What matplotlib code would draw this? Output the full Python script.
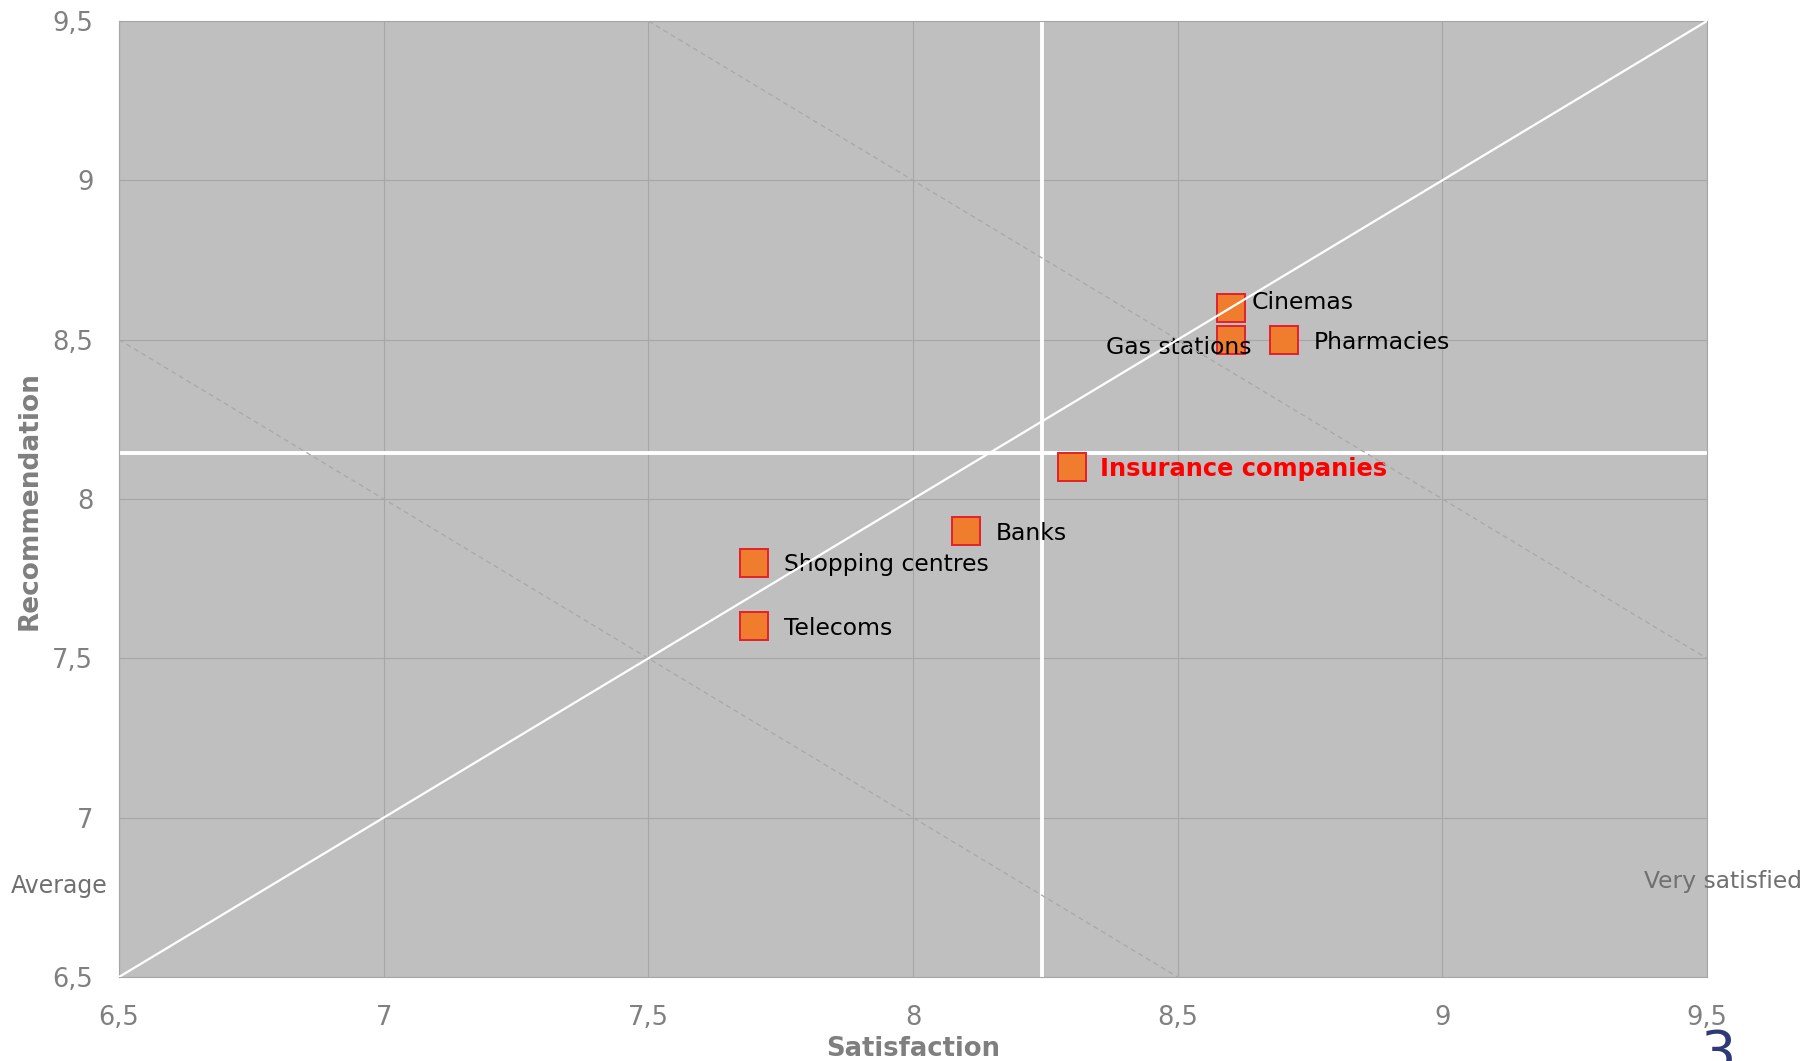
import matplotlib
matplotlib.use("Agg")
import matplotlib.pyplot as plt
import numpy as np

plt.rcParams['font.family'] = ['DejaVu Sans']

# ---- data ----
categories = ["Cinemas", "Gas stations", "Pharmacies", "Insurance companies",
              "Banks", "Shopping centres", "Telecoms"]
satisfaction = [8.6, 8.6, 8.7, 8.3, 8.1, 7.7, 7.7]
recommendation = [8.6, 8.5, 8.5, 8.1, 7.9, 7.8, 7.6]
tick_values = [6.5, 7, 7.5, 8, 8.5, 9, 9.5]
tick_labels = ["6,5", "7", "7,5", "8", "8,5", "9", "9,5"]
# reference lines x + y = const
iso_sums = [15, 17]

W, H = 1806, 1061
fig = plt.figure(figsize=(W / 100, H / 100), dpi=100)
ax = fig.add_axes([119 / W, 1 - 977 / H, (1707 - 119) / W, (977 - 21) / H])
ax.set_facecolor('#BFBFBF')
ax.set_xlim(tick_values[0], tick_values[-1])
ax.set_ylim(tick_values[0], tick_values[-1])
ax.set_xticks(tick_values)
ax.set_xticklabels(tick_labels)
ax.set_yticks(tick_values)
ax.set_yticklabels(tick_labels)
ax.tick_params(axis='both', length=0, labelsize=18.5, labelcolor='#808080')
ax.tick_params(axis='x', pad=20)
ax.tick_params(axis='y', pad=18.5)
ax.grid(True, color='#A6A6A6', linewidth=0.8, zorder=0)
ax.set_axisbelow(True)
for s in ax.spines.values():
    s.set_color('#A6A6A6')
    s.set_linewidth(0.8)

# averages (below labels)
x_avg = np.mean(satisfaction)
y_avg = np.mean(recommendation)
ax.axvline(x_avg, color='white', linewidth=2.8, zorder=2.5, clip_on=False)
ax.axhline(y_avg, color='white', linewidth=2.8, zorder=2.5, clip_on=False)

# markers
ax.plot(satisfaction, recommendation, linestyle='none', marker='s',
        markersize=20, markerfacecolor='#F07D2E', markeredgecolor='#E3202A',
        markeredgewidth=1.4, zorder=4)

# labels: offsets in points
offsets = {
    "Cinemas": (14.8, -0.8, 'left'),
    "Gas stations": (14.8, -10.3, 'right'),
    "Pharmacies": (21.6, -6.8, 'left'),
    "Insurance companies": (20.2, -6.3, 'left'),
    "Banks": (21.6, -6.3, 'left'),
    "Shopping centres": (21.6, -6.3, 'left'),
    "Telecoms": (21.4, -6.3, 'left'),
}
for name, xv, yv in zip(categories, satisfaction, recommendation):
    dx, dy, ha = offsets[name]
    if name == "Insurance companies":
        kw = dict(color='#FF0000', fontweight='bold', fontsize=17.4)
    else:
        kw = dict(color='black', fontsize=16.9)
    ax.annotate(name, (xv, yv), xytext=(dx, dy), textcoords='offset points',
                ha=ha, va='baseline', zorder=5, **kw)

# dashed iso lines and diagonal drawn on top
for c in iso_sums:
    ax.axline((0, c), slope=-1, color='#A8A8A8', linewidth=0.9,
              linestyle=(0, (4, 3)), zorder=6)
ax.axline((0, 0), slope=1, color='white', linewidth=1.6, zorder=6)

# axis titles
fig.text(913 / W, (H - 1056) / H, "Satisfaction", ha='center', va='baseline',
         fontsize=18.6, fontweight='bold', color='#7F7F7F')
fig.text(29.5 / W, 1 - 501 / H, "Recommendation", ha='center', va='center',
         rotation=90, fontsize=19, fontweight='bold', color='#7F7F7F')

# corner annotations
fig.text(11 / W, (H - 893) / H, "Average", ha='left', va='baseline',
         fontsize=17, color='#707070')
fig.text(1802 / W, (H - 888) / H, "Very satisfied", ha='right', va='baseline',
         fontsize=16.8, color='#707070', zorder=10)
fig.text(1718 / W, (H - 1070) / H, "3", ha='center', va='baseline',
         fontsize=40, color='#2F3A75')

fig.savefig("out.png", dpi=100)
